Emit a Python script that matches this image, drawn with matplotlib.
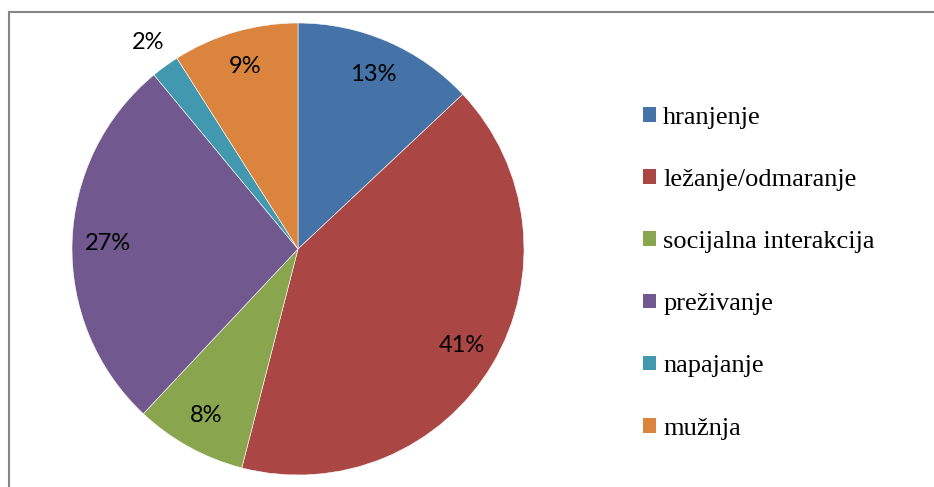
import numpy as np
import matplotlib
matplotlib.use('Agg')
import matplotlib.pyplot as plt
from matplotlib.lines import Line2D
from matplotlib.patches import Patch

labels = ['hranjenje', 'ležanje/odmaranje', 'socijalna interakcija',
          'preživanje', 'napajanje', 'mužnja']
values = [13, 41, 8, 27, 2, 9]
colors = ['#4572A7', '#AA4643', '#89A54E', '#71588F', '#4198AF', '#DB843D']

W, H = 934, 487
fig = plt.figure(figsize=(W / 100, H / 100), dpi=100)

# pie centre (298, 249) px, radius 226 px
cx, cy, r = 298, 249, 226
ax = fig.add_axes([(cx - r) / W, (H - cy - r) / H, 2 * r / W, 2 * r / H])
wedges, texts, autotexts = ax.pie(values, colors=colors, startangle=90, counterclock=False,
                                  autopct='%d%%', pctdistance=0.84,
                                  wedgeprops=dict(linewidth=0.4, edgecolor='white'),
                                  textprops=dict(family='Lato', fontsize=17, color='black'))
ax.set_xlim(-1, 1)
ax.set_ylim(-1, 1)
ax.set_aspect('auto')

# small slice label sits outside
w = wedges[4]
ang = np.deg2rad((w.theta1 + w.theta2) / 2)
autotexts[4].set_position((1.13 * np.cos(ang), 1.13 * np.sin(ang)))

handles = [Patch(facecolor=c, edgecolor='none') for c in colors]
fig.legend(handles, labels, loc='upper left', bbox_to_anchor=(643 / W, 1 - 107 / H),
           frameon=False, prop=dict(family='Liberation Serif', size=19),
           handlelength=0.48, handleheight=0.48, handletextpad=0.28, labelspacing=1.52,
           borderaxespad=0, borderpad=0)

# chart border
fig.add_artist(Line2D([8.5 / W, 8.5 / W], [0, 1 - 12 / H], color='#868686', lw=1.5))
fig.add_artist(Line2D([8.5 / W, 1], [1 - 12 / H, 1 - 12 / H], color='#868686', lw=1.5))

fig.savefig('out.png', dpi=100)
